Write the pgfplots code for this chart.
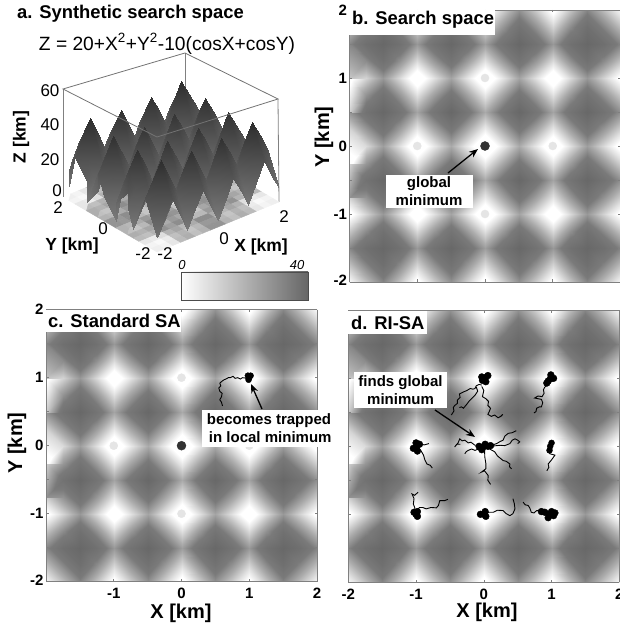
\documentclass[border=0pt]{standalone}
\usepackage{pgfplots}
\usepackage{pgfplotstable}
\usepackage{fontspec}
\setmainfont{Liberation Sans}
\pgfplotsset{compat=1.18}
\usetikzlibrary{arrows.meta}
\pgfplotstableread[header=false]{
8
17
26
16
5
15
24
14
4
14
24
15
5
16
26
17
8
17
26
35
25
14
24
33
23
13
23
33
24
14
25
35
26
17
26
35
44
34
23
33
42
32
22
32
42
33
23
34
44
35
26
16
25
34
24
13
23
32
22
12
22
32
23
13
24
34
25
16
5
14
23
13
2
12
21
11
1
11
21
12
2
13
23
14
5
15
24
33
23
12
22
31
21
11
21
31
22
12
23
33
24
15
24
33
42
32
21
31
40
30
20
30
40
31
21
32
42
33
24
14
23
32
22
11
21
30
20
10
20
30
21
11
22
32
23
14
4
13
22
12
1
11
20
10
0
10
20
11
1
12
22
13
4
14
23
32
22
11
21
30
20
10
20
30
21
11
22
32
23
14
24
33
42
32
21
31
40
30
20
30
40
31
21
32
42
33
24
15
24
33
23
12
22
31
21
11
21
31
22
12
23
33
24
15
5
14
23
13
2
12
21
11
1
11
21
12
2
13
23
14
5
16
25
34
24
13
23
32
22
12
22
32
23
13
24
34
25
16
26
35
44
34
23
33
42
32
22
32
42
33
23
34
44
35
26
17
26
35
25
14
24
33
23
13
23
33
24
14
25
35
26
17
8
17
26
16
5
15
24
14
4
14
24
15
5
16
26
17
8
}\zT
\newcommand\FA{\fontsize{17}{20}\selectfont}
\newcommand\FB{\fontsize{17.5}{20}\selectfont\bfseries}
\newcommand\FT{\fontsize{15}{18}\selectfont\bfseries}
\newcommand\FL{\fontsize{18.4}{20}\selectfont\bfseries}
\newcommand\FX{\fontsize{20}{22}\selectfont\bfseries}
\colorlet{boxc}{black!50}
\pgfplotsset{
  heat/.style={scale only axis,width=271pt,height=272pt,
    xmin=-2,xmax=2,ymin=-2,ymax=2,view={0}{90},
    axis line style={boxc,line width=.9pt},
    tick style={boxc,line width=.6pt},tick align=inside,major tick length=2.5pt,minor tick length=2.5pt,
    xtick={-2,-1,0,1,2},ytick={-2,-1,0,1,2},
    minor ytick={-1.5,-.5,.5,1.5},
    tick label style={font=\FT},
    xticklabels={},yticklabels={\raisebox{3pt}{-2},-1,0,1,\raisebox{-2pt}{2}},
    yticklabel style={xshift=1pt},xticklabel style={yshift=-3pt},
    colormap={hm}{rgb255(0pt)=(255,255,255); rgb255(7pt)=(255,255,255); rgb255(12pt)=(225,225,225); rgb255(20pt)=(170,170,170); rgb255(28pt)=(122,122,122); rgb255(40pt)=(104,104,104)},
    point meta min=0,point meta max=40},
  hp/.style={surf,shader=interp,mesh/cols=17,point meta=\thisrowno{0}},
  spots/.style={only marks,mark=*,mark size=4pt,color=black!10,mark options={draw=none}},
  cspot/.style={only marks,mark=*,mark size=4.5pt,color=black!80,mark options={draw=none}},
  walk/.style={black,line width=.9pt,no marks},
  blob/.style={only marks,mark=*,mark size=3.4pt,black,mark options={draw=none}}
}
\newcommand\heatdata{\addplot3[hp] table[x index=0,y index=0,z index=0,x expr={mod(\coordindex,17)/4-2},y expr={floor(\coordindex/17)/4-2}]{\zT};}
\begin{document}
\begin{tikzpicture}[x=1pt,y=1pt]
\useasboundingbox (0,0) rectangle (619,627);
\draw[boxc,line width=.8pt] (63,538)--(63,430);
\draw[boxc,line width=.8pt] (185,574)--(185,470);
\draw[boxc,line width=.8pt] (278,528)--(279,425);
\begin{axis}[at={(171pt,427.5pt)},anchor=origin,x={(30.5pt,12.5pt)},y={(-23.5pt,13.75pt)},z={(0pt,1.8pt)},
  xmin=-2,xmax=2,ymin=-2,ymax=2,zmin=0,zmax=60,hide axis,clip=false,disabledatascaling,
  colormap={bands}{color(0)=(white) color(1)=(black!45) color(2)=(white) color(3)=(black!45) color(4)=(white) color(5)=(black!45) color(6)=(white) color(7)=(black!45) color(8)=(white) color(9)=(black!45) color(10)=(white)},
  point meta min=0,point meta max=44]
\addplot3[surf,shader=flat,mesh/cols=17,point meta=\thisrowno{0}] table[x index=0,y index=0,z index=0,x expr={mod(\coordindex,17)/4-2},y expr={floor(\coordindex/17)/4-2},z expr=0]{\zT};
\end{axis}
\begin{axis}[at={(171pt,427.5pt)},anchor=origin,x={(30.5pt,12.5pt)},y={(-23.5pt,13.75pt)},z={(0pt,1.8pt)},
  xmin=-2,xmax=2,ymin=-2,ymax=2,zmin=0,zmax=60,hide axis,clip=false,disabledatascaling,
  colormap={dk}{rgb255(0pt)=(130,130,130); rgb255(1pt)=(45,45,45)},point meta min=0,point meta max=44]
\addplot3[surf,shader=interp,mesh/cols=17,point meta=\thisrowno{0}] table[x index=0,y index=0,z index=0,x expr={mod(\coordindex,17)/4-2},y expr={floor(\coordindex/17)/4-2}]{\zT};
\end{axis}
\draw[black!55,line width=.8pt] (63,538)--(185,574)--(278,528)--(157,490)--cycle;
\node[anchor=west,inner sep=0,font=\FL] at (17,613) {a. Synthetic search space};
\node[anchor=center,inner sep=0,font=\fontsize{19.2}{22}\selectfont] at (167,583) {Z = 20+X\textsuperscript{2}+Y\textsuperscript{2}-10(cosX+cosY)};
\node[rotate=90,font=\FB,inner sep=0] at (21,490) {Z [km]};
\foreach \t/\xx/\yy in {60/50/536,40/50/502,20/50/467,0/57/436,2/58/419,0/103/398,-2/143/373,-2/165/373,0/224/388,2/284/410}
  \node[font=\FA,inner sep=0] at (\xx,\yy) {\t};
\node[font=\FB,inner sep=0] at (72,381) {Y [km]};
\node[font=\FB,inner sep=0] at (261,380) {X [km]};
\shade[left color=white,right color=black!60] (181,327) rectangle (308,355);
\draw[black!70,line width=.8pt] (181,327) rectangle (308,355);
\node[font=\fontsize{13}{15}\selectfont\itshape,inner sep=0] at (182,362) {0};
\node[font=\fontsize{13}{15}\selectfont\itshape,inner sep=0] at (297,362) {40};
\begin{axis}[heat,at={(349.5pt,345pt)}]
\heatdata
\addplot[spots] coordinates {(0,1)(-1,0)(1,0)(0,-1)};
\addplot[cspot] coordinates {(0,0)};
\end{axis}
\fill[white] (348,592) rectangle (495,617);
\node[anchor=west,inner sep=0,font=\FL] at (352,607) {b. Search space};
\fill[white] (385.7,419) rectangle (472.7,452);
\node[align=center,inner sep=0,font=\FT] at (429,435.5) {global\\minimum};
\draw[-{Stealth[length=9pt,width=7pt]},line width=1.3pt] (448,454)--(478,478);
\node[rotate=90,font=\FX,inner sep=0] at (324,490) {Y [km]};
\begin{axis}[heat,at={(46pt,45.3pt)},xticklabels={,-1,0,1,2}]
\heatdata
\addplot[spots] coordinates {(0,1)(-1,0)(1,0)(0,-1)};
\addplot[cspot] coordinates {(0,0)};
\addplot[walk] coordinates {(1,1.01)(.97,.98)(.94,.995)(.9,1.0)(.87,.98)(.83,1.0)(.79,.99)(.76,1.02)(.72,1.0)(.69,1.0)(.665,.985)(.63,.97)(.6,.95)(.565,.92)(.58,.88)(.55,.85)(.565,.80)(.6,.77)(.59,.72)(.565,.675)(.59,.64)(.605,.585)};
\addplot[blob,mark size=3pt] coordinates {(1,1)(.99,.97)(1.02,1.03)(.98,1.03)};
\end{axis}
\fill[white] (46,295) rectangle (181,317);
\node[anchor=west,inner sep=0,font=\FL] at (48,306) {c. Standard SA};
\fill[white] (202,180) rectangle (335,217);
\node[align=center,inner sep=0,font=\FT] at (269,198.5) {becomes trapped\\\,in local minimum};
\draw[-{Stealth[length=9pt,width=7pt]},line width=1.3pt] (262,218)--(251,243);
\node[rotate=90,font=\FX,inner sep=0] at (17,184) {Y [km]};
\node[font=\FX,inner sep=0] at (181,13.5) {X [km]};
\begin{axis}[heat,at={(348.3pt,44.7pt)},yticklabels={},xticklabels={-2,-1,0,1,2}]
\heatdata
\addplot[walk] coordinates {(-.03,.90)(-.07,.91)(-.11,.89)(-.13,.85)(-.16,.84)(-.2,.85)(-.25,.82)(-.3,.8)(-.36,.77)(-.35,.72)(-.39,.68)(-.39,.63)(-.43,.6)(-.45,.57)(-.44,.52)(-.48,.46)};
\addplot[walk] coordinates {(-.11,.87)(-.09,.81)(-.13,.75)(-.16,.72)(-.22,.66)(-.25,.62)(-.30,.56)(-.33,.58)(-.36,.57)};
\addplot[walk] coordinates {(-.03,.88)(0,.82)(-.02,.73)(.03,.7)(.07,.66)(.06,.6)(.10,.56)(.08,.51)(.06,.47)(.11,.44)(.16,.46)(.21,.42)(.25,.44)(.28,.47)};
\addplot[walk] coordinates {(.93,.90)(.9,.87)(.88,.83)(.89,.78)(.86,.73)(.8,.74)(.75,.71)(.85,.69)(.87,.64)(.85,.58)(.82,.58)(.78,.56)(.77,.51)(.74,.49)};
\addplot[walk] coordinates {(-.99,0)(-.93,-.06)(-.89,-.13)(-.87,-.2)(-.84,-.26)(-.79,-.28)(-.76,-.32)};
\addplot[walk] coordinates {(-.95,.04)(-.88,.02)(-.81,.04)};
\addplot[walk] coordinates {(-.1,.015)(-.13,.015)(-.19,.06)(-.23,.05)(-.28,.09)(-.32,.08)(-.355,.11)(-.38,.05)(-.43,-.01)(-.4,.03)(-.345,.03)};
\addplot[walk] coordinates {(-.05,-.03)(-.13,-.06)(-.18,-.04)(-.23,-.06)(-.26,-.08)(-.28,-.11)};
\addplot[walk] coordinates {(.1,.01)(.19,.04)(.24,.07)(.285,.09)(.31,.15)(.36,.19)(.42,.2)(.48,.23)};
\addplot[walk] coordinates {(.1,0)(.24,.015)(.31,.01)(.385,.04)(.42,.09)(.46,.11)(.5,.09)(.53,.065)(.5,.04)};
\addplot[walk] coordinates {(.05,-.02)(.16,-.08)(.2,-.14)(.285,-.21)(.33,-.22)(.385,-.26)(.38,-.3)(.41,-.33)};
\addplot[walk] coordinates {(.01,-.02)(.015,-.16)(.03,-.25)(.03,-.33)(-.035,-.38)(.01,-.36)(.065,-.43)(.06,-.5)(.10,-.56)};
\addplot[walk] coordinates {(.98,.02)(.96,-.06)(.975,-.11)(1.05,-.13)(1.0,-.2)(.95,-.26)(.96,-.31)(.93,-.36)};
\addplot[walk] coordinates {(-1,-1)(-1.02,-.9)(-1.04,-.85)(-1.03,-.77)(-1.06,-.70)(-1.02,-.72)(-.97,-.675)};
\addplot[walk] coordinates {(-1,-.95)(-.95,-.9)(-.9,-.9)(-.85,-.92)(-.78,-.9)(-.7,-.905)(-.67,-.87)(-.65,-.8)(-.58,-.8)(-.53,-.78)};
\addplot[walk] coordinates {(0,-1)(.07,-.97)(.14,-.97)(.2,-.94)(.285,-.945)(.33,-.99)(.385,-1.02)(.43,-.99)(.46,-.92)(.45,-.84)(.43,-.77)};
\addplot[walk] coordinates {(.9,-.97)(.84,-.95)(.78,-.945)(.74,-.98)(.70,-.97)(.68,-.91)(.655,-.87)(.61,-.86)(.58,-.82)};
\addplot[blob] coordinates {(.02,1.01)(-.02,.97)(.06,1.04)(-.03,1.02)(.03,.95)};
\addplot[blob] coordinates {(.98,.99)(1.03,1.0)(.95,.96)(.99,1.05)(.93,.93)};
\addplot[blob] coordinates {(-.99,0)(-1.04,-.03)(-.95,.03)(-.98,-.07)(-1.0,.05)};
\addplot[blob] coordinates {(-.01,-.01)(-.07,0)(.06,0)(.02,.03)(-.03,-.05)(.1,.01)};
\addplot[blob,mark size=3pt] coordinates {(.98,0)(1.0,.05)(.97,-.06)};
\addplot[blob] coordinates {(-1,-1)(-1.03,-.97)(-.98,-.96)(-.98,-1.03)};
\addplot[blob] coordinates {(0,-1)(-.05,-1)(.03,-1.03)(.02,-.96)};
\addplot[blob] coordinates {(.97,-1)(1.03,-1.02)(.9,-.97)(.85,-.96)(1,-.96)(1.05,-.98)(.95,-1.05)};
\end{axis}
\fill[white] (348,293) rectangle (427,316);
\node[anchor=west,inner sep=0,font=\FL] at (351,304) {d. RI-SA};
\fill[white] (354,219) rectangle (447,255);
\node[align=center,inner sep=0,font=\FT] at (400.5,237) {finds global\\minimum};
\draw[-{Stealth[length=9pt,width=7pt]},line width=1.3pt] (435,217)--(475,190);
\node[font=\FX,inner sep=0] at (487,15) {X [km]};
\end{tikzpicture}
\end{document}
